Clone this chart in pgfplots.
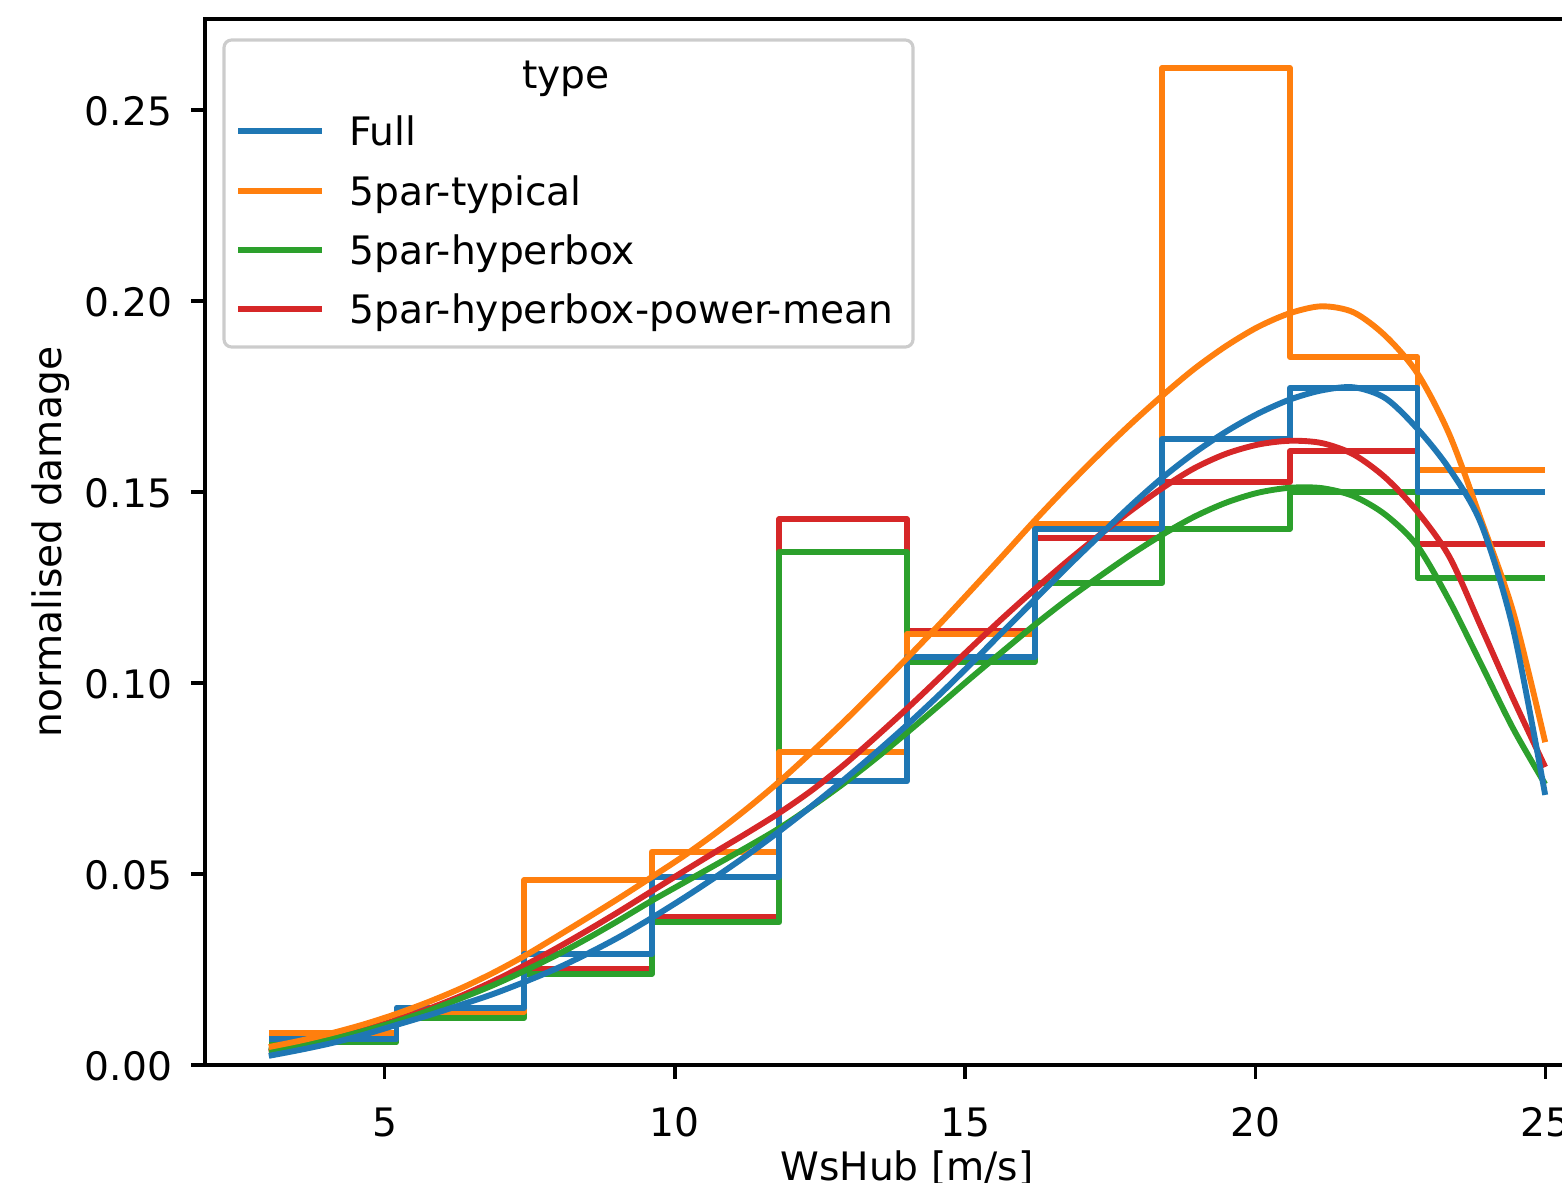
\documentclass[border=0pt]{standalone}
\usepackage{fontspec}
\setmainfont{DejaVu Sans}
\usepackage{pgfplots}
\pgfplotsset{compat=1.18}
\definecolor{tabblue}{HTML}{1F77B4}
\definecolor{taborange}{HTML}{FF7F0E}
\definecolor{tabgreen}{HTML}{2CA02C}
\definecolor{tabred}{HTML}{D62728}
\begin{document}
\begin{tikzpicture}[font=\fontsize{9.8}{11.8}\selectfont]
\useasboundingbox (-51.25pt,-29.25pt) rectangle (339.25pt,266.25pt);
\clip (-51.25pt,-29.25pt) rectangle (339.25pt,266.25pt);
\begin{axis}[
  at={(0pt,0pt)}, anchor=south west,
  width=351pt, height=261.5pt, scale only axis,
  xmin=1.9, xmax=26.1, ymin=0, ymax=0.2738,
  xtick={5,10,15,20,25},
  ytick={0,0.05,0.1,0.15,0.2,0.25},
  scaled y ticks=false,
  /pgf/number format/assume math mode=true,
  yticklabel style={/pgf/number format/fixed, /pgf/number format/fixed zerofill, /pgf/number format/precision=2, anchor=east, inner sep=0pt, xshift=-4.6pt, yshift=-0.4pt},
  xticklabel style={anchor=base, yshift=-14.5pt},
  tick align=outside, xtick pos=left, ytick pos=left,
  major tick length=3.44pt,
  every tick/.style={black, line width=0.79pt},
  axis line style={line width=0.79pt},
  xlabel={WsHub [m/s]}, ylabel={normalised damage},
  xlabel style={at={(axis description cs:0.5,-0.10994)}, anchor=base},
  ylabel style={at={(axis description cs:-0.10185,0.5)}, anchor=base},
  every axis plot/.append style={line width=1.47pt, line join=round},
]
% step histograms (drawn in reverse hue order)
\addplot[tabred, const plot] coordinates {(3,0.0072) (5.2,0.0134) (7.4,0.0251) (9.6,0.0387) (11.8,0.1429) (14,0.1136) (16.2,0.138) (18.4,0.1526) (20.6,0.1607) (22.8,0.1364) (25,0.1364)};
\addplot[tabgreen, const plot] coordinates {(3,0.0060) (5.2,0.0123) (7.4,0.0238) (9.6,0.0374) (11.8,0.1343) (14,0.1055) (16.2,0.1262) (18.4,0.1403) (20.6,0.1500) (22.8,0.1275) (25,0.1275)};
\addplot[taborange, const plot] coordinates {(3,0.0084) (5.2,0.0139) (7.4,0.0484) (9.6,0.0558) (11.8,0.0819) (14,0.1128) (16.2,0.1416) (18.4,0.2610) (20.6,0.1853) (22.8,0.1558) (25,0.1558)};
\addplot[tabblue, const plot] coordinates {(3,0.0068) (5.2,0.0149) (7.4,0.0291) (9.6,0.0492) (11.8,0.0743) (14,0.1068) (16.2,0.1403) (18.4,0.1639) (20.6,0.1772) (22.8,0.1500) (25,0.1500)};
% KDE curves
\addplot[tabred, smooth] coordinates {(3.00,0.0034) (3.55,0.0050) (4.10,0.0068) (4.65,0.0092) (5.20,0.0118) (5.75,0.0147) (6.30,0.0180) (6.85,0.0218) (7.40,0.0260) (7.95,0.0305) (8.50,0.0353) (9.05,0.0403) (9.60,0.0455) (10.15,0.0507) (10.70,0.0558) (11.25,0.0608) (11.80,0.0660) (12.35,0.0718) (12.90,0.0784) (13.45,0.0857) (14.00,0.0933) (14.55,0.1012) (15.10,0.1092) (15.65,0.1170) (16.20,0.1245) (16.75,0.1317) (17.30,0.1385) (17.85,0.1450) (18.40,0.1510) (18.95,0.1562) (19.50,0.1600) (20.05,0.1624) (20.60,0.1634) (21.15,0.1628) (21.70,0.1598) (22.25,0.1537) (22.80,0.1448) (23.35,0.1330) (23.90,0.1145) (24.45,0.0958) (25.00,0.0780)};
\addplot[tabgreen, smooth] coordinates {(3.00,0.0038) (3.55,0.0052) (4.10,0.0069) (4.65,0.0090) (5.20,0.0114) (5.75,0.0142) (6.30,0.0174) (6.85,0.0208) (7.40,0.0246) (7.95,0.0287) (8.50,0.0332) (9.05,0.0380) (9.60,0.0430) (10.15,0.0477) (10.70,0.0524) (11.25,0.0571) (11.80,0.0620) (12.35,0.0676) (12.90,0.0736) (13.45,0.0801) (14.00,0.0870) (14.55,0.0941) (15.10,0.1013) (15.65,0.1083) (16.20,0.1152) (16.75,0.1217) (17.30,0.1277) (17.85,0.1335) (18.40,0.1388) (18.95,0.1435) (19.50,0.1472) (20.05,0.1498) (20.60,0.1511) (21.15,0.1510) (21.70,0.1489) (22.25,0.1440) (22.80,0.1358) (23.35,0.1215) (23.90,0.1048) (24.45,0.0880) (25.00,0.0735)};
\addplot[taborange, smooth] coordinates {(3.00,0.0047) (3.55,0.0064) (4.10,0.0084) (4.65,0.0107) (5.20,0.0134) (5.75,0.0165) (6.30,0.0200) (6.85,0.0240) (7.40,0.0285) (7.95,0.0335) (8.50,0.0386) (9.05,0.0438) (9.60,0.0492) (10.15,0.0547) (10.70,0.0607) (11.25,0.0672) (11.80,0.0742) (12.35,0.0818) (12.90,0.0897) (13.45,0.0980) (14.00,0.1065) (14.55,0.1152) (15.10,0.1242) (15.65,0.1333) (16.20,0.1425) (16.75,0.1513) (17.30,0.1597) (17.85,0.1677) (18.40,0.1752) (18.95,0.1822) (19.50,0.1882) (20.05,0.1932) (20.60,0.1968) (21.15,0.1986) (21.70,0.1970) (22.25,0.1908) (22.80,0.1810) (23.35,0.1650) (23.90,0.1425) (24.45,0.1185) (25.00,0.0845)};
\addplot[tabblue, smooth] coordinates {(3.00,0.0024) (3.55,0.0040) (4.10,0.0058) (4.65,0.0080) (5.20,0.0105) (5.75,0.0130) (6.30,0.0157) (6.85,0.0185) (7.40,0.0217) (7.95,0.0252) (8.50,0.0292) (9.05,0.0336) (9.60,0.0385) (10.15,0.0437) (10.70,0.0492) (11.25,0.0550) (11.80,0.0612) (12.35,0.0677) (12.90,0.0745) (13.45,0.0816) (14.00,0.0890) (14.55,0.0968) (15.10,0.1050) (15.65,0.1134) (16.20,0.1218) (16.75,0.1302) (17.30,0.1383) (17.85,0.1463) (18.40,0.1537) (18.95,0.1602) (19.50,0.1658) (20.05,0.1705) (20.60,0.1742) (21.15,0.1766) (21.70,0.1774) (22.25,0.1745) (22.80,0.1665) (23.35,0.1560) (23.90,0.1415) (24.45,0.1140) (25.00,0.0707)};
\end{axis}
% legend
\draw[rounded corners=1.9pt, draw=black!20, fill=white, fill opacity=0.8, draw opacity=1, line width=0.79pt] (4.75pt,179.5pt) rectangle (177pt,256.25pt);
\node[anchor=base, inner sep=0pt] at (90.25pt,244.25pt) {type};
\draw[tabblue, line width=1.47pt] (8.25pt,233.5pt) -- (29.25pt,233.5pt);
\draw[taborange, line width=1.47pt] (8.25pt,218.5pt) -- (29.25pt,218.5pt);
\draw[tabgreen, line width=1.47pt] (8.25pt,203.75pt) -- (29.25pt,203.75pt);
\draw[tabred, line width=1.47pt] (8.25pt,189pt) -- (29.25pt,189pt);
\node[anchor=base west, inner sep=0pt] at (35.9pt,229.93pt) {Full};
\node[anchor=base west, inner sep=0pt] at (35.9pt,214.93pt) {5par-typical};
\node[anchor=base west, inner sep=0pt] at (35.9pt,200.18pt) {5par-hyperbox};
\node[anchor=base west, inner sep=0pt] at (35.9pt,185.43pt) {5par-hyperbox-power-mean};
\end{tikzpicture}
\end{document}
